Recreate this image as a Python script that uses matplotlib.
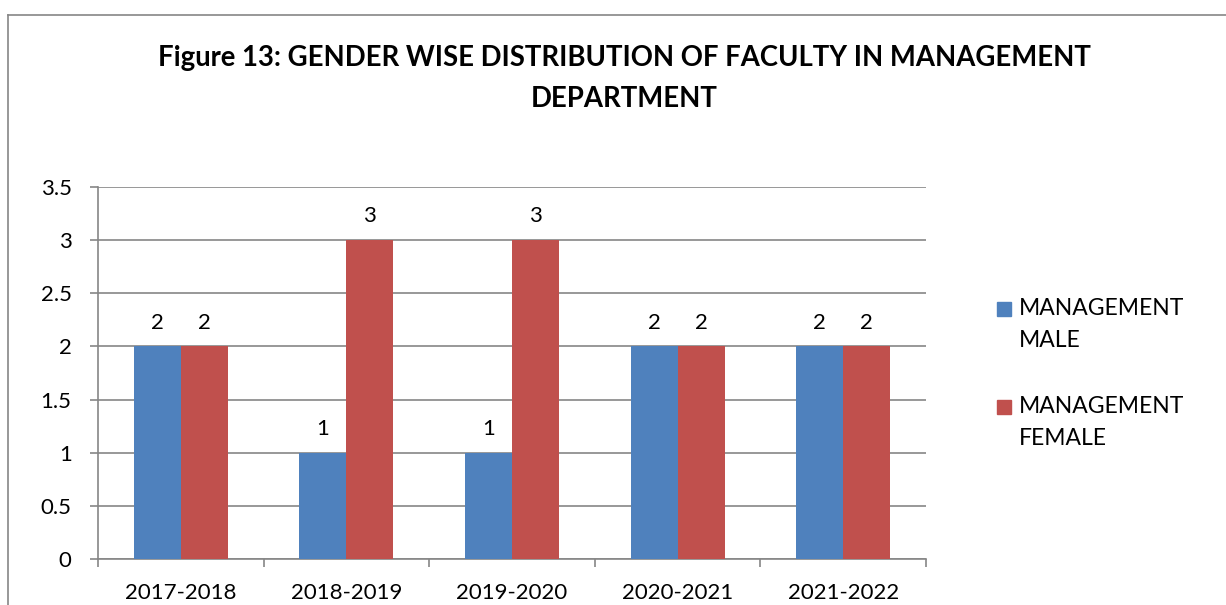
import matplotlib
matplotlib.use("Agg")
import matplotlib.pyplot as plt
import numpy as np
from matplotlib.lines import Line2D
from matplotlib.patches import Rectangle

categories = ["2017-2018", "2018-2019", "2019-2020", "2020-2021", "2021-2022"]
male = [2, 1, 1, 2, 2]
female = [2, 3, 3, 2, 2]
series_names = ["MANAGEMENT\nMALE", "MANAGEMENT\nFEMALE"]
series_colors = ["#4F81BD", "#C0504D"]
title = "Figure 13: GENDER WISE DISTRIBUTION OF FACULTY IN MANAGEMENT\nDEPARTMENT"
yticks = [0, 0.5, 1, 1.5, 2, 2.5, 3, 3.5]

plt.rcParams['font.family'] = ['Lato', 'DejaVu Sans']

W, H = 1226, 605
fig = plt.figure(figsize=(W / 100, H / 100), dpi=100)

# outer chart border
gray = "#868686"
fig.add_artist(Line2D([8 / W, 8 / W], [0, 1 - 15 / H], transform=fig.transFigure, color=gray, lw=1.2))
fig.add_artist(Line2D([8 / W, 1], [1 - 15 / H, 1 - 15 / H], transform=fig.transFigure, color=gray, lw=1.2))

ax = fig.add_axes([98 / W, (H - 558.7) / H, (926 - 98) / W, (558.7 - 187.3) / H])

x = np.arange(len(categories))
bw = 0.284
b1 = ax.bar(x - bw / 2, male, bw, color=series_colors[0], label=series_names[0], zorder=3)
b2 = ax.bar(x + bw / 2, female, bw, color=series_colors[1], label=series_names[1], zorder=3)
ax.bar_label(b1, padding=10, fontsize=16)
ax.bar_label(b2, padding=10, fontsize=16)

ax.set_xlim(-0.5, len(categories) - 0.5)
ax.set_ylim(0, 3.5)
ax.set_yticks(yticks)
ax.set_yticklabels([f"{v:g}" for v in yticks], fontsize=16)
ax.set_xticks(x)
ax.set_xticklabels(categories, fontsize=16)
ax.set_xticks(np.arange(len(categories) + 1) - 0.5, minor=True)
ax.tick_params(axis='x', which='major', length=0, pad=17.5)
ax.tick_params(axis='x', which='minor', length=6, width=1.2, color=gray, direction='out')
ax.tick_params(axis='y', length=6, width=1.2, color=gray, pad=13)

ax.yaxis.grid(True, color=gray, lw=1.2, zorder=0)
for s in ["top", "right"]:
    ax.spines[s].set_visible(False)
for s in ["left", "bottom"]:
    ax.spines[s].set_color(gray)
    ax.spines[s].set_linewidth(1.2)

fig.text(624 / W, 1 - 78.5 / H, title, ha="center", va="center", fontsize=19.8, fontweight="bold",
         linespacing=1.7)

# legend (manual, to match layout)
legend_tops = [298, 396]
for name, col, top in zip(series_names, series_colors, legend_tops):
    fig.add_artist(Rectangle((997 / W, 1 - (top + 18) / H), 14 / W, 14 / H,
                             transform=fig.transFigure, color=col))
    fig.text(1019 / W, 1 - top / H, name, ha="left", va="top", fontsize=16.5, linespacing=1.65)

fig.savefig("out.png", dpi=100)
